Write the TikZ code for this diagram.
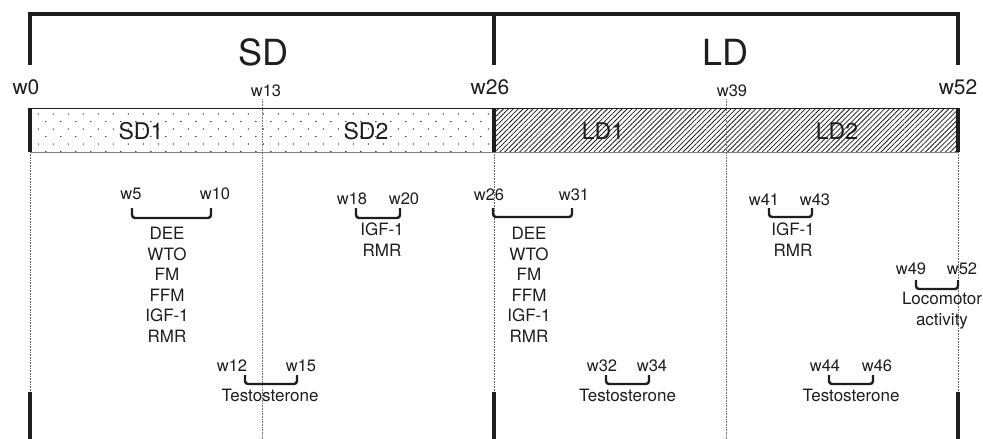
\documentclass[tikz,border=0pt]{standalone}
\usepackage{fontspec}
\setmainfont{TeX Gyre Heros}
\usetikzlibrary{patterns.meta}

\definecolor{ink}{HTML}{1E1E1E}

\begin{document}
\begin{tikzpicture}[
        x=1pt, y=-1pt,
        font=\fontsize{17}{20.6}\selectfont,
        text=ink,
        heavy/.style={draw=ink, line width=3.3pt},
        guide/.style={draw=black!55, line width=0.6pt, densely dotted},
        period/.style={inner sep=0pt, font=\fontsize{36}{40}\selectfont},
        bound/.style={inner sep=0pt, font=\fontsize{21}{24}\selectfont},
        phase/.style={inner sep=0pt, font=\fontsize{23}{24}\selectfont},
        week/.style={inner sep=0pt, font=\fontsize{16.5}{20}\selectfont},
        span/.style={draw=ink, line width=2.4pt, rounded corners=3pt},
        measures/.style={inner sep=0pt, anchor=north, align=center}
    ]
    \useasboundingbox (0,0) rectangle (983,439);

    % the two diets as a bar
    \begin{scope}
        \clip (30,108) rectangle (494,152);
        \foreach \r in {0,...,5}
            \foreach \c in {0,...,31}
                \fill[ink] ({38.3+15*\c+7.5*mod(\r,2)},{114+7.5*\r}) circle (0.7);
    \end{scope}
    \fill[pattern={Lines[angle=45,distance=3.5pt,line width=0.8pt]}, pattern color=ink] (494,108) rectangle (958,152);
    \draw[ink, line width=0.8pt] (30,108) -- (958,108);
    \draw[black!50, line width=0.8pt] (30,152) -- (958,152);

    \foreach \x in {30,494,958} {
        \draw[guide] (\x,152) -- (\x,392);
        \draw[heavy] (\x,108) -- (\x,152);
        \draw[heavy] (\x,392) -- (\x,439);
    }
    \draw[guide] (262,99) -- (262,439);
    \draw[guide] (726,99) -- (726,439);
    \draw[heavy] (30,65) |- (958,14) -- (958,65);
    \draw[heavy] (494,14) -- (494,65);

    \node[period] (sd) at (263,52) {SD};
    \node[period] (ld) at (725,52) {LD};
    \node[bound] (w0) at (26,87.5) {w0};
    \node[bound] (w26) at (490,87.5) {w26};
    \node[bound] (w52) at (958,87.5) {w52};
    \node[week] (w13) at (266,91) {w13};
    \node[week] (w39) at (732,91) {w39};

    \node[phase] (sd1) at (141,131) {SD1};
    \node[phase] (sd2) at (366,131) {SD2};
    \node[phase] (ld1) at (603,131) {LD1};
    \node[phase] (ld2) at (837,131) {LD2};

    % short diet
    \node[week] (mw5) at (131,194) {w5};
    \node[week] (mw10) at (215,194) {w10};
    \draw[span] (132,208) |- (211,218) -- (211,208);
    \node[measures] (sdfirst) at (167,227) {DEE\\WTO\\FM\\FFM\\IGF-1\\RMR};

    \node[week] (mw18) at (352,199) {w18};
    \node[week] (mw20) at (404,199) {w20};
    \draw[span] (356,208) |- (400,218) -- (400,208);
    \node[measures] (sdsecond) at (382,223) {IGF-1\\RMR};

    \node[week] (mw12) at (232,366) {w12};
    \node[week] (mw15) at (301,366) {w15};
    \draw[span] (245,375) |- (297,384) -- (297,375);
    \node[measures] (sdtesto) at (270,389) {Testosterone};

    % long diet
    \node[week] (mw26) at (489,195) {w26};
    \node[week] (mw31) at (574,195) {w31};
    \draw[span] (493,208) |- (572,217) -- (572,208);
    \node[measures] (ldfirst) at (529,227) {DEE\\WTO\\FM\\FFM\\IGF-1\\RMR};

    \node[week] (mw41) at (764,199.5) {w41};
    \node[week] (mw43) at (815,199.5) {w43};
    \draw[span] (769,208) |- (812,217) -- (812,208);
    \node[measures] (ldsecond) at (793,223) {IGF-1\\RMR};

    \node[week] (mw49) at (911,268.5) {w49};
    \node[week] (mw52) at (962,268.5) {w52};
    \draw[span] (916,280) |- (958,289) -- (958,280);
    \node[measures] (loco) at (942,292) {Locomotor\\activity};

    \node[week] (mw32) at (602,366) {w32};
    \node[week] (mw34) at (652,366) {w34};
    \draw[span] (606,375) |- (649,384) -- (649,375);
    \node[measures] (ldtesto) at (627.5,389) {Testosterone};

    \node[week] (mw44) at (825,366) {w44};
    \node[week] (mw46) at (877,366) {w46};
    \draw[span] (829,375) |- (873,384) -- (873,375);
    \node[measures] (ldtestob) at (851,389) {Testosterone};

\end{tikzpicture}
\end{document}
